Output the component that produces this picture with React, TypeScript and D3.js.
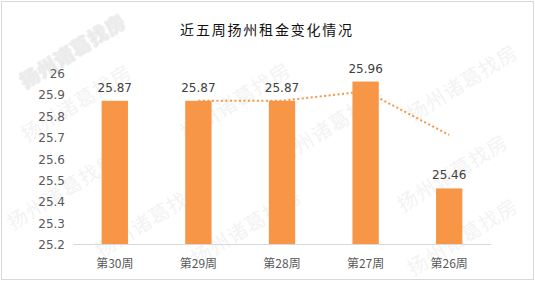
import React from "react";
import * as d3 from "d3";

const categories = ["第30周", "第29周", "第28周", "第27周", "第26周"];
const rents = [25.87, 25.87, 25.87, 25.96, 25.46];
const yTicks = [25.2, 25.3, 25.4, 25.5, 25.6, 25.7, 25.8, 25.9, 26];
const titleText = "近五周扬州租金变化情况";
const watermarkText = "扬州诸葛找房";

// watermark placements: [cx, cy, bold]
const watermarks: [number, number, boolean][] = [
  [72, 50, true],
  [76, 102, false],
  [62, 190, false],
  [150, 218, false],
  [235, 100, false],
  [330, 125, false],
  [462, 82, false],
  [452, 172, false],
  [246, 226, false],
  [462, 236, false],
];

const W = 535;
const H = 281;
const margin = { left: 73, right: 44, top: 73, bottom: 37 };
const orange = "#F79646";

export default function App() {
  const x = d3
    .scaleBand<string>()
    .domain(categories)
    .range([margin.left, W - margin.right])
    .paddingInner(0.685)
    .paddingOuter(0.3425);
  const y = d3.scaleLinear().domain([25.2, 26]).range([H - margin.bottom, margin.top]);

  // two-period moving average trendline
  const ma = rents
    .map((v, i) => (i === 0 ? null : { c: categories[i], v: (v + rents[i - 1]) / 2 }))
    .filter((d): d is { c: string; v: number } => d !== null);
  const line = d3
    .line<{ c: string; v: number }>()
    .x((d) => (x(d.c) as number) + x.bandwidth() / 2)
    .y((d) => y(d.v));

  const baseY = y(25.2);

  return (
    <div style={{ position: "fixed", left: 0, top: 0 }}>
      <svg width={W} height={H} style={{ display: "block" }}>
        <rect x={0} y={0} width={W} height={H} fill="#fff" />
        <rect x={1.5} y={1.5} width={532} height={278} fill="none" stroke="#d9d9d9" strokeWidth={1} />
        {watermarks.map(([cx, cy, bold], i) => (
          <text
            key={i}
            transform={`translate(${cx},${cy}) rotate(-32)`}
            textAnchor="middle"
            dominantBaseline="central"
            fontFamily="'Noto Sans CJK SC', sans-serif"
            fontSize={bold ? 19 : 20}
            fontWeight={bold ? 900 : 400}
            fill={bold ? "#e9e9e9" : "#f3f3f3"}
            stroke={bold ? "#eeeeee" : "none"}
            strokeWidth={bold ? 1.5 : 0}
            letterSpacing={1}
          >
            {watermarkText}
          </text>
        ))}
        <text
          x={267}
          y={29}
          textAnchor="middle"
          dominantBaseline="central"
          fontFamily="'Noto Sans CJK SC', sans-serif"
          fontSize={14}
          letterSpacing={1.8}
          fill="#111"
        >
          {titleText}
        </text>
        {yTicks.map((t) => (
          <text
            key={t}
            x={65}
            y={y(t) + 1}
            textAnchor="end"
            dominantBaseline="central"
            fontFamily="'DejaVu Sans', sans-serif"
            fontSize={12}
            fill="#595959"
          >
            {d3.format("")(t)}
          </text>
        ))}
        <path
          d={line(ma) || ""}
          fill="none"
          stroke={orange}
          strokeWidth={2}
          strokeDasharray="2 2.5"
        />
        {categories.map((c, i) => {
          const bx = x(c) as number;
          const top = y(rents[i]);
          return (
            <g key={c}>
              <rect x={bx} y={top} width={x.bandwidth()} height={baseY - top} fill={orange} />
              <text
                x={bx + x.bandwidth() / 2}
                y={top - 13}
                textAnchor="middle"
                dominantBaseline="central"
                fontFamily="'DejaVu Sans', sans-serif"
                fontSize={12}
                fill="#404040"
              >
                {rents[i].toFixed(2)}
              </text>
              <text
                x={bx + x.bandwidth() / 2}
                y={262}
                textAnchor="middle"
                dominantBaseline="central"
                fontFamily="'Noto Sans CJK SC', sans-serif"
                fontSize={12}
                fill="#595959"
              >
                {c}
              </text>
            </g>
          );
        })}
        <line x1={margin.left} x2={W - margin.right} y1={baseY + 0.5} y2={baseY + 0.5} stroke="#d9d9d9" strokeWidth={1} />
      </svg>
    </div>
  );
}
